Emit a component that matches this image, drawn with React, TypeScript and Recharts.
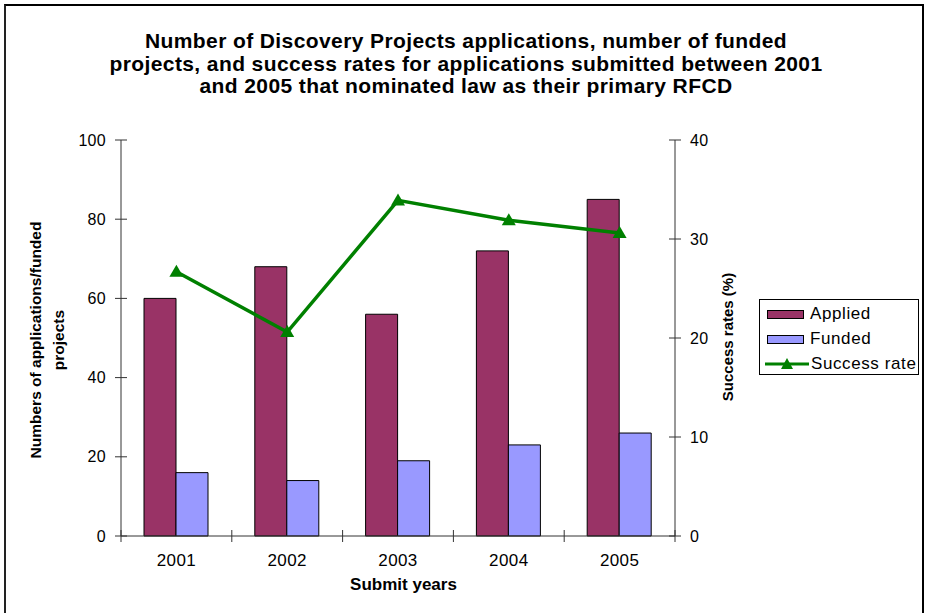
import { Bar, ComposedChart, Line, XAxis, YAxis } from 'recharts'

const years = ['2001', '2002', '2003', '2004', '2005']
const applied = [60, 68, 56, 72, 85]
const funded = [16, 14, 19, 23, 26]
const successRate = [26.7, 20.6, 33.9, 31.9, 30.6]
const leftTicks = [0, 20, 40, 60, 80, 100]
const rightTicks = [0, 10, 20, 30, 40]

const data = years.map((year, i) => ({
  year,
  applied: applied[i],
  funded: funded[i],
  rate: successRate[i],
}))

const font = '"Liberation Sans", Arial, sans-serif'
const axisColor = '#333'
const appliedColor = '#993366'
const fundedColor = '#9999FF'
const lineColor = '#008000'

function LeftTick({ x, y, payload }: any) {
  const ax = x + 12
  return (
    <g>
      <line x1={ax - 6} x2={ax + 6} y1={y} y2={y} stroke={axisColor} />
      <text x={ax - 15} y={y} dy={5.5} textAnchor="end" fontSize={16} letterSpacing={0.3} fontFamily={font} fill="#000">
        {payload.value}
      </text>
    </g>
  )
}

function RightTick({ x, y, payload }: any) {
  const ax = x - 12
  return (
    <g>
      <line x1={ax - 6} x2={ax + 6} y1={y} y2={y} stroke={axisColor} />
      <text x={ax + 15} y={y} dy={5.5} textAnchor="start" fontSize={16} letterSpacing={0.3} fontFamily={font} fill="#000">
        {payload.value}
      </text>
    </g>
  )
}

function BottomTick({ x, y, payload, index }: any) {
  const half = payload.offset || 55.4
  const ay = y - 12
  return (
    <g>
      <line x1={x - half} x2={x - half} y1={ay - 6} y2={ay + 6} stroke={axisColor} />
      {index === years.length - 1 ? (
        <line x1={x + half} x2={x + half} y1={ay - 6} y2={ay + 6} stroke={axisColor} />
      ) : null}
      <text x={x} y={ay + 30} textAnchor="middle" fontSize={17} letterSpacing={0.4} fontFamily={font} fill="#000">
        {payload.value}
      </text>
    </g>
  )
}

function Triangle({ cx, cy }: any) {
  if (cx == null || cy == null) return null
  return <path d={`M${cx},${cy - 7} L${cx + 7},${cy + 5} L${cx - 7},${cy + 5} Z`} fill={lineColor} />
}

export default function App() {
  return (
    <div style={{ position: 'absolute', left: 0, top: 0, width: 928, height: 613, background: '#fff', fontFamily: font, overflow: 'hidden' }}>
      <div style={{ position: 'absolute', left: 4, top: 4, width: 920, height: 620, border: '2px solid #000', borderLeftColor: '#222', boxSizing: 'border-box' }} />
      <div style={{ position: 'absolute', left: 0, top: 30, width: 932, textAlign: 'center', fontWeight: 'bold', fontSize: 21, letterSpacing: 0.4, lineHeight: '22.5px', color: '#000' }}>
        Number of Discovery Projects applications, number of funded
        <br />
        projects, and success rates for applications submitted between 2001
        <br />
        and 2005 that nominated law as their primary RFCD
      </div>

      <ComposedChart
        width={928}
        height={613}
        data={data}
        margin={{ top: 140, right: 0, bottom: 0, left: 0 }}
        barCategoryGap={23}
        barGap={0}
        style={{ position: 'absolute', left: 0, top: 0 }}
      >
        <XAxis dataKey="year" height={77} axisLine={{ stroke: axisColor }} tickLine={false} tick={<BottomTick />} tickSize={0} tickMargin={12} />
        <YAxis yAxisId="left" domain={[0, 100]} ticks={leftTicks} width={121} axisLine={{ stroke: axisColor }} tickLine={false} tickSize={0} tickMargin={12} tick={<LeftTick />} />
        <YAxis yAxisId="right" orientation="right" domain={[0, 40]} ticks={rightTicks} width={253} axisLine={{ stroke: axisColor }} tickLine={false} tickSize={0} tickMargin={12} tick={<RightTick />} />
        <Bar yAxisId="left" dataKey="applied" fill={appliedColor} stroke="#000" strokeWidth={1} isAnimationActive={false} />
        <Bar yAxisId="left" dataKey="funded" fill={fundedColor} stroke="#000" strokeWidth={1} isAnimationActive={false} />
        <Line yAxisId="right" dataKey="rate" stroke={lineColor} strokeWidth={3.5} dot={<Triangle />} activeDot={false} isAnimationActive={false} />
      </ComposedChart>

      <div style={{ position: 'absolute', left: 46.5, top: 340, transform: 'translate(-50%, -50%) rotate(-90deg)', whiteSpace: 'nowrap', textAlign: 'center', fontWeight: 'bold', fontSize: 15.5, lineHeight: '23px' }}>
        Numbers of applications/funded
        <br />
        projects
      </div>
      <div style={{ position: 'absolute', left: 727, top: 337, transform: 'translate(-50%, -50%) rotate(-90deg)', whiteSpace: 'nowrap', fontWeight: 'bold', fontSize: 15 }}>
        Success rates (%)
      </div>
      <div style={{ position: 'absolute', left: 0, top: 575, width: 807, textAlign: 'center', fontWeight: 'bold', fontSize: 17 }}>
        Submit years
      </div>

      <div style={{ position: 'absolute', left: 759, top: 299, width: 160, height: 76, border: '1px solid #000', boxSizing: 'border-box', fontSize: 17, letterSpacing: 0.6 }}>
        {[
          { label: 'Applied', color: appliedColor, kind: 'bar' },
          { label: 'Funded', color: fundedColor, kind: 'bar' },
          { label: 'Success rate', color: lineColor, kind: 'line' },
        ].map((item, i) => (
          <div key={item.label} style={{ position: 'absolute', left: 0, top: 4 + i * 25, height: 20, display: 'flex', alignItems: 'center', whiteSpace: 'nowrap' }}>
            {item.kind === 'bar' ? (
              <span style={{ display: 'inline-block', marginLeft: 7, width: 37, height: 9, background: item.color, border: '1px solid #000', boxSizing: 'border-box' }} />
            ) : (
              <svg width={44} height={14} style={{ marginLeft: 5 }}>
                <line x1={0} x2={44} y1={7} y2={7} stroke={lineColor} strokeWidth={3} />
                <path d="M22,1 L28,12 L16,12 Z" fill={lineColor} />
              </svg>
            )}
            <span style={{ marginLeft: item.kind === 'bar' ? 6 : 2 }}>{item.label}</span>
          </div>
        ))}
      </div>
    </div>
  )
}
